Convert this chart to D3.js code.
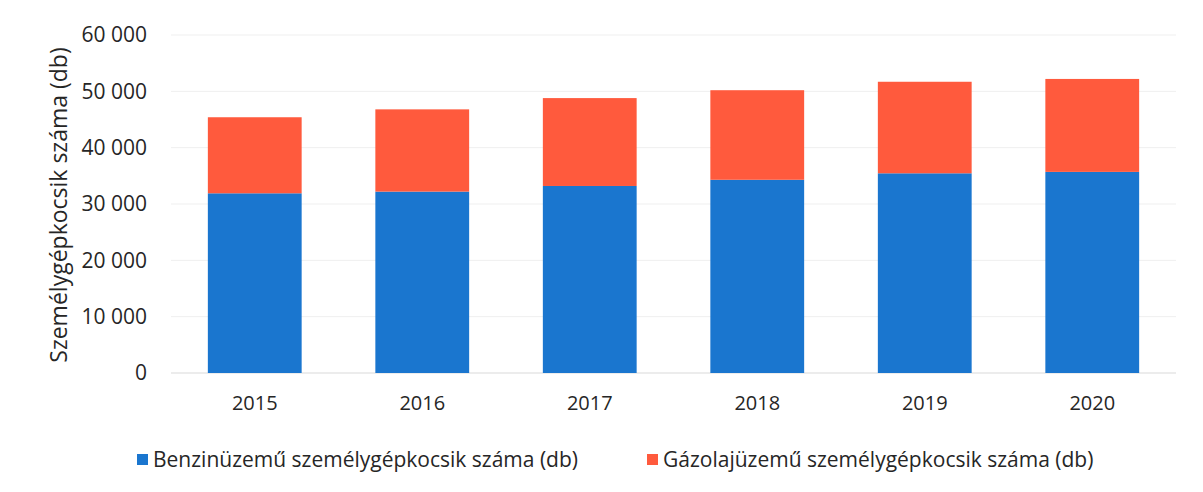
<!DOCTYPE html>
<html>
<head>
<meta charset="utf-8">
<script src="https://cdn.jsdelivr.net/npm/d3@7"></script>
<style>
  body { margin: 0; background: #fff; }
  text { font-family: 'Open Sans', sans-serif; fill: #262626; }
</style>
</head>
<body>
<div id="chart"></div>
<script>
// data
const years = ['2015', '2016', '2017', '2018', '2019', '2020'];
const petrol = [31900, 32200, 33200, 34300, 35450, 35700];
const diesel = [13500, 14600, 15600, 15900, 16250, 16500];
const yTicks = [0, 10000, 20000, 30000, 40000, 50000, 60000];
const seriesNames = [
  'Benzinüzemű személygépkocsik száma (db)',
  'Gázolajüzemű személygépkocsik száma (db)'
];
const colors = ['#1a76cf', '#ff5a3d'];

const width = 1203;
const height = 492;

const svg = d3
  .select('#chart')
  .append('svg')
  .attr('width', width)
  .attr('height', height);

const x = d3
  .scaleBand()
  .domain(years)
  .range([171, 1176])
  .paddingInner(0.44)
  .paddingOuter(0.22);

const y = d3
  .scaleLinear()
  .domain([0, 60000])
  .range([373, 35]);

const fmt = v => d3.format(',')(v).replace(/,/g, ' ');

//gridlines
svg
  .append('g')
  .selectAll('line')
  .data(yTicks)
  .enter()
  .append('line')
  .attr('x1', 171)
  .attr('x2', 1176)
  .attr('y1', d => y(d))
  .attr('y2', d => y(d))
  .attr('stroke', d => (d === 0 ? '#d9d9d9' : '#efefef'))
  .attr('stroke-width', 1);

//y axis labels
const yAxis = svg
  .append('g')
  .attr('transform', 'translate(150,0)')
  .call(d3.axisLeft(y).tickValues(yTicks).tickFormat(fmt).tickSize(0).tickPadding(3));
yAxis.select('.domain').remove();
yAxis.selectAll('text').style('font-size', '21px').attr('fill', '#262626');

//stacked bars
const stackData = years.map((yr, i) => ({ year: yr, petrol: petrol[i], diesel: diesel[i] }));
const stack = d3.stack().keys(['petrol', 'diesel'])(stackData);

svg
  .append('g')
  .selectAll('g')
  .data(stack)
  .enter()
  .append('g')
  .attr('fill', (d, i) => colors[i])
  .selectAll('rect')
  .data(d => d)
  .enter()
  .append('rect')
  .attr('x', d => x(d.data.year))
  .attr('width', x.bandwidth())
  .attr('y', d => y(d[1]))
  .attr('height', d => y(d[0]) - y(d[1]));

//x axis labels
const xAxis = svg
  .append('g')
  .attr('transform', 'translate(0,396)')
  .call(d3.axisBottom(x).tickSize(0).tickPadding(0));
xAxis.select('.domain').remove();
xAxis.selectAll('text').style('font-size', '20px').attr('fill', '#262626');

//y axis title
svg
  .append('text')
  .attr('transform', 'translate(67,205) rotate(-90)')
  .attr('text-anchor', 'middle')
  .style('font-size', '23px')
  .text('Személygépkocsik száma (db)');

//legend
const legendX = [137, 647];
const legend = svg
  .append('g')
  .selectAll('g')
  .data(seriesNames)
  .enter()
  .append('g')
  .attr('transform', (d, i) => `translate(${legendX[i]},454)`);

legend
  .append('rect')
  .attr('width', 11)
  .attr('height', 11)
  .attr('fill', (d, i) => colors[i]);

legend
  .append('text')
  .attr('x', 16)
  .attr('y', 13)
  .style('font-size', '21px')
  .text(d => d);
</script>
</body>
</html>
